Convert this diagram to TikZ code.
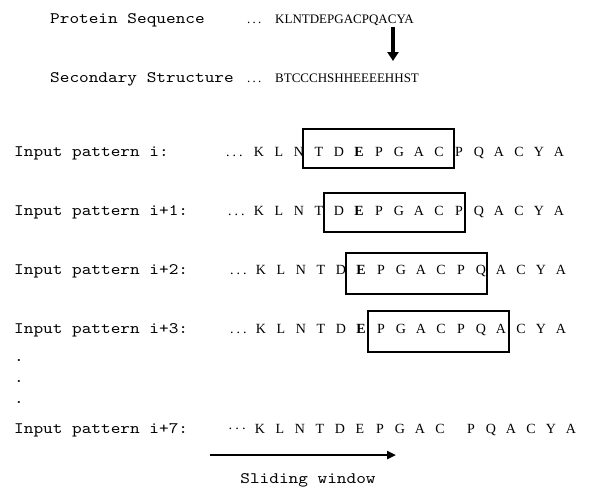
\documentclass[tikz,border=0pt]{standalone}
\usepackage{fontspec}
\setmainfont{Liberation Serif}
\newfontfamily\labfont[FakeStretch=1.15]{lmmono10-regular.otf}
\usetikzlibrary{arrows.meta}
\tikzset{
  lbl/.style={anchor=base west, inner sep=0pt, font=\labfont\fontsize{16}{16}\selectfont},
  seqtxt/.style={anchor=base west, inner sep=0pt, font=\fontsize{13}{13}\selectfont},
  let/.style={anchor=base, inner sep=0pt, font=\fontsize{14}{14}\selectfont},
  winbox/.style={draw, line width=2pt, inner sep=0pt},
  bigarrow/.style={line width=4pt, -{Triangle[width=11pt,length=9pt]}},
  slidearrow/.style={line width=2.4pt, -{Triangle[width=8pt,length=9pt]}}
}
\newcommand{\seqrow}[4]{% #1 name, #2 y-center, #3 x offset, #4 bold index
  \foreach \L [count=\k from 0] in {K,L,N,T,D,E,P,G,A,C,P,Q,A,C,Y,A}{
    \ifnum\k=#4
      \node[let, font=\fontsize{14}{14}\selectfont\bfseries] (#1-\k) at ({259+#3+20*\k},{#2+5}) {\L};
    \else
      \node[let] (#1-\k) at ({259+#3+20*\k},{#2+5}) {\L};
    \fi
  }
}
\begin{document}
\begin{tikzpicture}[x=1pt,y=-1pt]
\useasboundingbox[fill=white] (0,0) rectangle (592,488);

% top part
\node[lbl] (ps) at (50,23) {Protein Sequence};
\node[seqtxt] (psd) at (247,23) {.\hspace{2.2pt}.\hspace{2.2pt}.};
\node[seqtxt] (pss) at (275,23) {KLNTDEPGACPQACYA};
\node[lbl] (ss) at (50,82) {Secondary Structure};
\node[seqtxt] (ssd) at (247,82) {.\hspace{2.2pt}.\hspace{2.2pt}.};
\node[seqtxt] (sss) at (275,82) {BTCCCHSHHEEEEHHST};
\coordinate (a1) at (393,27);
\coordinate (a2) at (393,61);
\draw[bigarrow] (a1) -- (a2);

% rows
\node[lbl] (l0) at (14,156) {Input pattern i:};
\node[lbl] (l1) at (14,215) {Input pattern i+1:};
\node[lbl] (l2) at (14,274) {Input pattern i+2:};
\node[lbl] (l3) at (14,333) {Input pattern i+3:};
\node[lbl] (l7) at (14,433) {Input pattern i+7:};

\node[let, anchor=base west] (d0) at (226,156) {.\hspace{3pt}.\hspace{3pt}.};
\node[let, anchor=base west] (d1) at (228,215) {.\hspace{3pt}.\hspace{3pt}.};
\node[let, anchor=base west] (d2) at (230,274) {.\hspace{3pt}.\hspace{3pt}.};
\node[let, anchor=base west] (d3) at (230,333) {.\hspace{3pt}.\hspace{3pt}.};
\node[let, anchor=base west] (d7) at (228,433) {·\hspace{2pt}·\hspace{2pt}·};

\seqrow{r0}{151}{0}{5}
\seqrow{r1}{210}{0}{5}
\seqrow{r2}{269}{2}{5}
\seqrow{r3}{328}{2}{5}

% row i+7
\foreach \L [count=\k from 0] in {K,L,N,T,D,E,P,G,A,C}{
  \node[let] (r7-\k) at ({260+20*\k},433) {\L};
}
\foreach \L [count=\k from 10] in {P,Q,A,C,Y,A}{
  \node[let] (r7-\k) at ({471+20*(\k-10)},433) {\L};
}

% windows
\node[winbox, minimum width=151pt, minimum height=39pt] (w0) at (378.5,148) {};
\node[winbox, minimum width=141pt, minimum height=39pt] (w1) at (394.5,212.5) {};
\node[winbox, minimum width=141pt, minimum height=41pt] (w2) at (416.5,273.5) {};
\node[winbox, minimum width=141pt, minimum height=41pt] (w3) at (438.5,331.5) {};

% vertical dots
\node[lbl] (v1) at (14,361) {.};
\node[lbl] (v2) at (14,382) {.};
\node[lbl] (v3) at (14,403) {.};

% sliding window
\coordinate (s1) at (210,455);
\coordinate (s2) at (396,455);
\draw[slidearrow] (s1) -- (s2);
\node[lbl, anchor=base] (sw) at (308,483) {Sliding window};
\end{tikzpicture}
\end{document}
